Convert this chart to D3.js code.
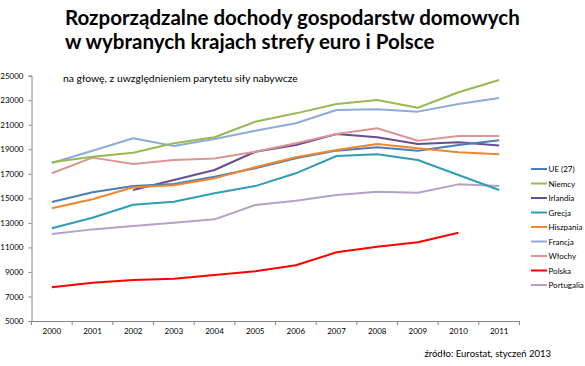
<!DOCTYPE html>
<html><head><meta charset="utf-8">
<script src="https://cdn.jsdelivr.net/npm/d3@7"></script>
<style>body{margin:0;background:#fff}svg{display:block}</style>
</head><body>
<svg id="c" width="585" height="366"></svg>
<script>
const years = ["2000","2001","2002","2003","2004","2005","2006","2007","2008","2009","2010","2011"];
const yTicks = [5000,7000,9000,11000,13000,15000,17000,19000,21000,23000,25000];
const ue27 =      [14700,15490,16000,16170,16770,17450,18270,18890,19160,18890,19350,19730];
const niemcy =    [17950,18400,18720,19490,19980,21250,21930,22690,23020,22390,23650,24650];
const irlandia =  [null,null,15680,16500,17310,18800,19350,20250,19980,19430,19570,19300];
const grecja =    [12560,13420,14480,14730,15410,16000,17040,18450,18590,18130,16900,15680];
const hiszpania = [14190,14920,15900,16060,16630,17530,18350,18940,19430,19080,18750,18590];
const francja =   [17880,18880,19900,19270,19840,20520,21120,22200,22260,22070,22690,23180];
const wlochy =    [17050,18320,17800,18130,18240,18800,19490,20250,20710,19700,20080,20080];
const polska =    [7750,8120,8340,8450,8750,9050,9540,10600,11060,11420,12200,null];
const portugalia= [12090,12470,12745,13010,13290,14460,14800,15270,15540,15460,16140,16000];

const series = [
  {name:"UE (27)", values:ue27, color:"#4A7EBB"},
  {name:"Niemcy", values:niemcy, color:"#98B954"},
  {name:"Irlandia", values:irlandia, color:"#6A4C93"},
  {name:"Grecja", values:grecja, color:"#2F9DB5"},
  {name:"Hiszpania", values:hiszpania, color:"#F2862E"},
  {name:"Francja", values:francja, color:"#8FAADC"},
  {name:"Włochy", values:wlochy, color:"#D99694"},
  {name:"Polska", values:polska, color:"#FF0000"},
  {name:"Portugalia", values:portugalia, color:"#B3A2C7"}
];

const svg = d3.select("#c");
const font = "Lato, 'Open Sans', sans-serif";
const mLeft = 31.5, mRight = 519.5, mTop = 75.7, mBottom = 321;

const x = d3.scaleBand().domain(years).range([mLeft, mRight]);
const y = d3.scaleLinear().domain([5000,25000]).range([mBottom, mTop]);

function fitText(sel, target){
  const w = sel.node().getComputedTextLength();
  const fs = parseFloat(sel.attr("font-size"));
  sel.attr("font-size", fs*target/w);
}
const t1 = svg.append("text").attr("x",65).attr("y",25).attr("font-family",font)
  .attr("font-weight","bold").attr("font-size",21).attr("fill","#000")
  .text("Rozporządzalne dochody gospodarstw domowych");
fitText(t1, 455);
const t2 = svg.append("text").attr("x",65).attr("y",48.5).attr("font-family",font)
  .attr("font-weight","bold").attr("font-size",21).attr("fill","#000")
  .text("w wybranych krajach strefy euro i Polsce");
t2.attr("font-size", t1.attr("font-size"));

const st = svg.append("text").attr("x",63).attr("y",82).attr("font-family",font)
  .attr("font-size",12).attr("fill","#000")
  .text("na głowę, z uwzględnieniem parytetu siły nabywcze");
fitText(st, 235);

const yAxis = d3.axisLeft(y).tickValues(yTicks).tickSize(3).tickFormat(d3.format("d"));
const gy = svg.append("g").attr("transform",`translate(${mLeft},0)`).call(yAxis);
gy.select(".domain").attr("stroke","#868686");
gy.selectAll(".tick line").attr("stroke","#868686");
gy.selectAll(".tick text").attr("font-family",font).attr("font-size",8).attr("fill","#000").attr("x",-8);

const xAxis = d3.axisBottom(x).tickSize(0).tickSizeOuter(0);
const gx = svg.append("g").attr("transform",`translate(0,${mBottom})`).call(xAxis);
gx.select(".domain").attr("stroke","#868686");
gx.selectAll(".tick text").attr("font-family",font).attr("font-size",8).attr("fill","#000").attr("dy","1.2em");
gx.selectAll(".sep").data(years.concat(["end"])).enter().append("line")
  .attr("x1",(d,i)=> mLeft + i*x.step()).attr("x2",(d,i)=> mLeft + i*x.step())
  .attr("y1",0).attr("y2",4).attr("stroke","#868686");

const line = d3.line()
  .defined(d => d.v != null)
  .x(d => x(d.year) + x.bandwidth()/2)
  .y(d => y(d.v));

const drawOrder = ["Portugalia","Polska","Grecja","Irlandia","UE (27)","Hiszpania","Włochy","Francja","Niemcy"];
drawOrder.forEach(n => {
  const s = series.find(q => q.name === n);
  svg.append("path")
    .datum(years.map((yr,i)=>({year:yr, v:s.values[i]})))
    .attr("fill","none").attr("stroke",s.color).attr("stroke-width",2)
    .attr("stroke-linejoin","round")
    .attr("d", line);
});

const lg = svg.append("g");
series.forEach((s,i) => {
  const yy = 169 + i*14.5;
  lg.append("line").attr("x1",531).attr("x2",547).attr("y1",yy).attr("y2",yy)
    .attr("stroke",s.color).attr("stroke-width",2);
  lg.append("text").attr("x",548.5).attr("y",yy+3).attr("font-family",font)
    .attr("font-size",8).attr("fill","#000").text(s.name);
});

svg.append("text").attr("x",551).attr("y",357).attr("text-anchor","end")
  .attr("font-family",font).attr("font-size",9.5).attr("fill","#000")
  .text("źródło: Eurostat, styczeń 2013");
</script>
</body></html>
